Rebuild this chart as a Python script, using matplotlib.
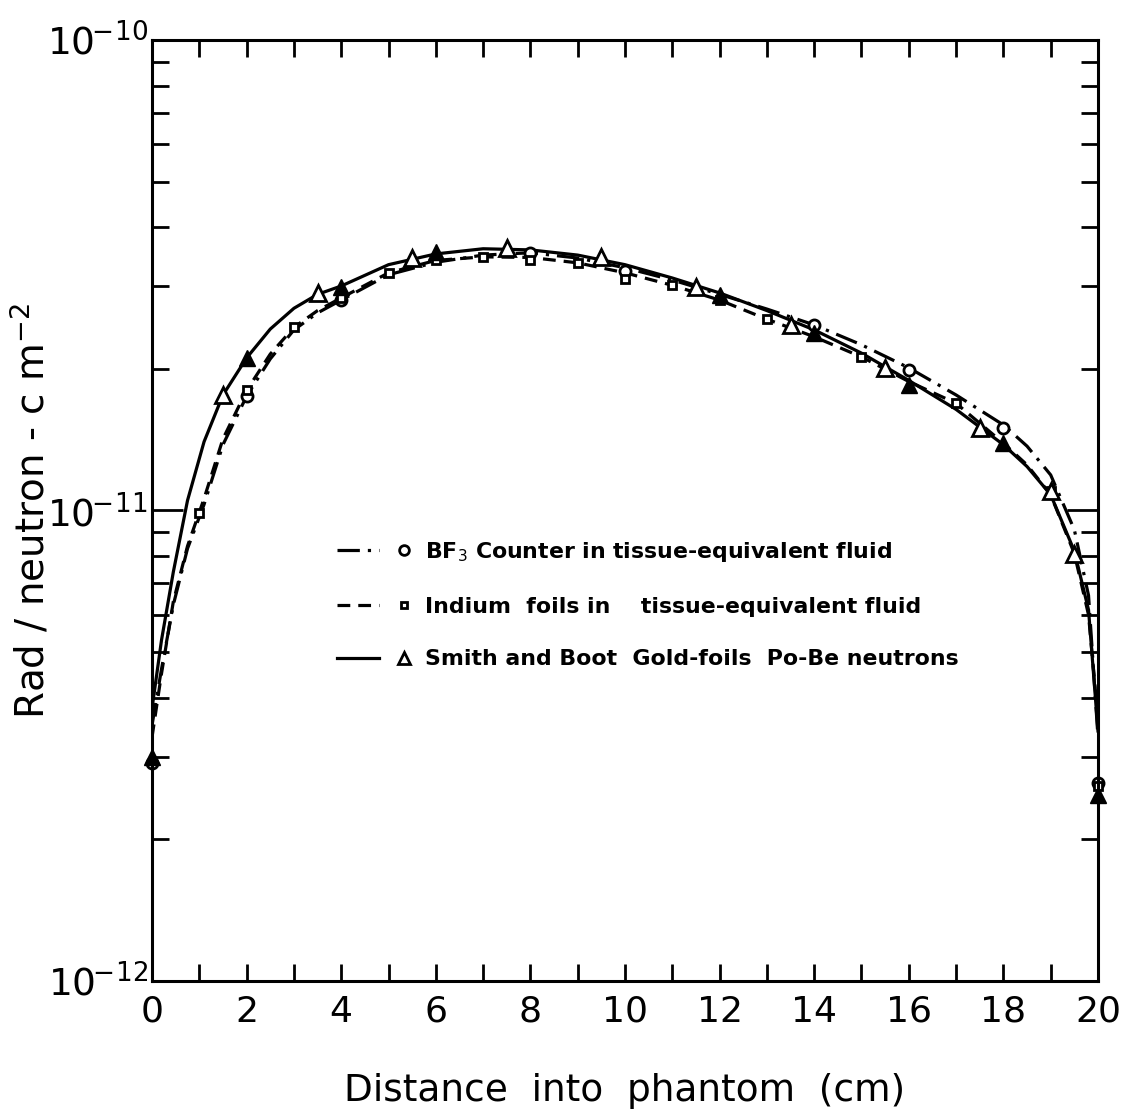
import numpy as np
import matplotlib
matplotlib.use("Agg")
import matplotlib.pyplot as plt
from matplotlib.ticker import FixedLocator, LogLocator, NullFormatter
from matplotlib.legend_handler import HandlerTuple

plt.rcParams['font.family'] = ['DejaVu Sans']

# curve knots (cm, rad per neutron cm^-2)
x_curve = [0, 0.2, 0.45, 0.75, 1.1, 1.5, 2, 2.5, 3, 3.5, 4, 5, 6, 7, 8, 9, 10, 11,
           12, 13, 14, 15, 16, 17, 18, 18.5, 19, 19.5, 19.8, 20]
bf3_curve = [3.5e-12, 4.6e-12, 6.3e-12, 8.3e-12, 1.03e-11, 1.38e-11, 1.75e-11, 2.10e-11,
             2.42e-11, 2.63e-11, 2.80e-11, 3.17e-11, 3.37e-11, 3.49e-11, 3.53e-11,
             3.44e-11, 3.28e-11, 3.09e-11, 2.88e-11, 2.68e-11, 2.48e-11, 2.25e-11,
             2.01e-11, 1.76e-11, 1.52e-11, 1.37e-11, 1.19e-11, 9.1e-12, 6.6e-12, 3.3e-12]
indium_curve = [3.3e-12, 4.5e-12, 6.4e-12, 8.4e-12, 1.06e-11, 1.42e-11, 1.80e-11, 2.15e-11,
                2.45e-11, 2.66e-11, 2.83e-11, 3.20e-11, 3.40e-11, 3.46e-11, 3.45e-11,
                3.36e-11, 3.20e-11, 3.01e-11, 2.80e-11, 2.55e-11, 2.34e-11, 2.12e-11,
                1.88e-11, 1.69e-11, 1.39e-11, 1.25e-11, 1.08e-11, 8.1e-12, 6.0e-12, 3.6e-12]
smith_curve = [3.8e-12, 5.3e-12, 7.4e-12, 1.05e-11, 1.40e-11, 1.76e-11, 2.11e-11, 2.43e-11,
               2.69e-11, 2.88e-11, 3.00e-11, 3.33e-11, 3.51e-11, 3.60e-11, 3.58e-11,
               3.49e-11, 3.33e-11, 3.12e-11, 2.90e-11, 2.66e-11, 2.42e-11, 2.16e-11,
               1.89e-11, 1.64e-11, 1.38e-11, 1.24e-11, 1.08e-11, 8.2e-12, 6.15e-12, 3.4e-12]

# measured points
bf3_x = [0, 2, 4, 8, 10, 14, 16, 18, 20]
bf3_y = [2.9e-12, 1.75e-11, 2.80e-11, 3.53e-11, 3.23e-11, 2.48e-11, 1.99e-11, 1.50e-11, 2.64e-12]

indium_x = [1, 2, 3, 4, 5, 6, 7, 8, 9, 10, 11, 12, 13, 15, 17, 19, 20]
indium_y = [9.9e-12, 1.80e-11, 2.45e-11, 2.83e-11, 3.20e-11, 3.41e-11, 3.46e-11, 3.41e-11,
            3.36e-11, 3.10e-11, 3.01e-11, 2.80e-11, 2.55e-11, 2.12e-11, 1.69e-11, 1.10e-11,
            2.6e-12]

smith_open_x = [1.5, 3.5, 5.5, 7.5, 9.5, 11.5, 13.5, 15.5, 17.5, 19, 19.5]
smith_open_y = [1.76e-11, 2.90e-11, 3.44e-11, 3.61e-11, 3.46e-11, 2.99e-11, 2.48e-11,
                2.01e-11, 1.50e-11, 1.10e-11, 8.1e-12]
smith_fill_x = [0, 2, 4, 6, 12, 14, 16, 18, 20]
smith_fill_y = [2.99e-12, 2.11e-11, 2.99e-11, 3.55e-11, 2.87e-11, 2.38e-11, 1.85e-11,
                1.39e-11, 2.48e-12]

fig = plt.figure(figsize=(11.22, 11.20), dpi=100)
ax = fig.add_axes([0.1355, 0.1241, 0.8431, 0.8402])

lw = 2.3
ax.plot(x_curve, bf3_curve, color="black", lw=lw, dashes=(7, 2.5, 1, 2.5))
ax.plot(x_curve, indium_curve, color="black", lw=lw, dashes=(4, 2.5))
ax.plot(x_curve, smith_curve, color="black", lw=lw)

mk = dict(color="black", linestyle="none", markeredgewidth=2, markerfacecolor="white")
ax.plot(bf3_x, bf3_y, marker="o", markersize=8, clip_on=False, **mk)
ax.plot(indium_x, indium_y, marker="s", markersize=6, clip_on=False, **mk)
ax.plot(smith_open_x, smith_open_y, marker="^", markersize=11, clip_on=False, **mk)
ax.plot(smith_fill_x, smith_fill_y, marker="^", markersize=11, color="black",
        linestyle="none", clip_on=False)

ax.set_yscale("log")
ax.set_xlim(0, 20)
ax.set_ylim(1e-12, 1e-10)

ax.xaxis.set_major_locator(FixedLocator(np.arange(0, 21, 2)))
ax.xaxis.set_minor_locator(FixedLocator(np.arange(1, 20, 2)))
ax.yaxis.set_minor_locator(LogLocator(base=10, subs=np.arange(2, 10), numticks=20))
ax.yaxis.set_minor_formatter(NullFormatter())
ax.set_yticks([1e-12, 1e-11, 1e-10])
ax.set_yticklabels([r"$\mathregular{10^{\!\!-\!12}}$", r"$\mathregular{10^{\!\!-\!11}}$",
                    r"$\mathregular{10^{\!\!-\!10}}$"])
ax.set_xticklabels([str(v) for v in range(0, 21, 2)])

ax.tick_params(which="both", direction="in", top=True, right=True, width=2)
ax.tick_params(axis="x", which="both", length=12, labelsize=26, pad=10)
ax.tick_params(axis="y", which="major", length=22, labelsize=27, pad=3)
ax.tick_params(axis="y", which="minor", length=12)
for s in ax.spines.values():
    s.set_linewidth(2.2)

ax.set_xlabel("Distance  into  phantom  (cm)", fontsize=27, labelpad=32)
ax.set_ylabel(r"Rad / neutron - c m$^{-2}$", fontsize=28)
ax.yaxis.set_label_coords(-0.105, 0.5)

# legend: line sample, then marker, then label
h_bf3 = (plt.Line2D([], [], color="black", lw=lw, dashes=(7, 2.5, 1, 2.5)),
         plt.Line2D([], [], marker="o", markersize=7, **mk))
h_ind = (plt.Line2D([], [], color="black", lw=lw, dashes=(4, 2.5)),
         plt.Line2D([], [], marker="s", markersize=5, **mk))
h_smi = (plt.Line2D([], [], color="black", lw=lw),
         plt.Line2D([], [], marker="^", markersize=8, **mk))
ax.legend([h_bf3, h_ind, h_smi],
          [r"BF$_3$ Counter in tissue-equivalent fluid",
           "Indium  foils in    tissue-equivalent fluid",
           "Smith and Boot  Gold-foils  Po-Be neutrons"],
          handler_map={tuple: HandlerTuple(ndivide=None, pad=0.2)},
          loc="upper left", bbox_to_anchor=(0.175, 0.49), frameon=False,
          handlelength=4.0, labelspacing=1.5, handletextpad=0.0,
          prop={"size": 15.8, "weight": "bold"})

fig.savefig("out.png", dpi=100)
